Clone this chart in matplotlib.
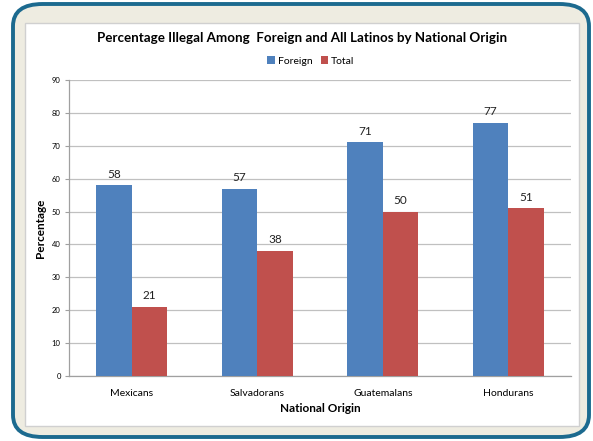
import numpy as np
import matplotlib.pyplot as plt
from matplotlib.patches import FancyBboxPatch, Rectangle

plt.rcParams['font.family'] = ['Lato', 'DejaVu Sans']

origins = ['Mexicans', 'Salvadorans', 'Guatemalans', 'Hondurans']
foreign = [58, 57, 71, 77]
total = [21, 38, 50, 51]
yticks = list(range(0, 100, 10))

blue = '#4f81bd'
red = '#c0504d'

fig = plt.figure(figsize=(5.93, 4.41), dpi=100)
fig.patch.set_facecolor('white')

# rounded outer frame + white chart area
frame = FancyBboxPatch((13/593, 4/441), (589-13)/593, (437-4)/441,
                       boxstyle='round,pad=0,rounding_size=0.05',
                       transform=fig.transFigure, facecolor='#eeece1',
                       edgecolor='#1c6a8f', linewidth=2.8, zorder=0)
fig.patches.append(frame)
inner = Rectangle((25/593, 1-426/441), (579-25)/593, (426-23)/441,
                  transform=fig.transFigure, facecolor='white',
                  edgecolor='#d0d0d0', linewidth=1.0, zorder=1)
fig.patches.append(inner)

ax = fig.add_axes([69/593, 1-376/441, 502/593, 296/441])
ax.set_zorder(5)
ax.set_facecolor('none')

x = np.arange(len(origins))
w = 0.283
b1 = ax.bar(x - w/2, foreign, w, color=blue, label='Foreign', zorder=3)
b2 = ax.bar(x + w/2, total, w, color=red, label='Total', zorder=3)

for bars, vals in ((b1, foreign), (b2, total)):
    for r, v in zip(bars, vals):
        ax.annotate(str(v), (r.get_x() + r.get_width()/2, v),
                    xytext=(0, 4), textcoords='offset points',
                    ha='center', va='bottom', fontsize=8.5, color='#222222')

ax.set_xlim(-0.5, len(origins) - 0.5)
ax.set_ylim(0, 90)
ax.set_yticks(yticks)
ax.set_yticklabels([str(t) for t in yticks], fontsize=5.5)
ax.set_xticks(x)
ax.set_xticklabels(origins, fontsize=7.5)
ax.tick_params(axis='x', length=0, pad=9)
ax.tick_params(axis='y', length=3, color='#a0a0a0', pad=3)
ax.yaxis.grid(True, color='#c0c0c0', linewidth=0.9, zorder=0)
for s in ('top', 'right'):
    ax.spines[s].set_visible(False)
for s in ('left', 'bottom'):
    ax.spines[s].set_color('#a0a0a0')
    ax.spines[s].set_linewidth(0.9)

ax.set_xlabel('National Origin', fontsize=8.5, fontweight='bold', labelpad=4)
ax.set_ylabel('Percentage', fontsize=8.5, fontweight='bold', labelpad=4)

fig.text(302/593, 1-38/441,
         'Percentage Illegal Among  Foreign and All Latinos by National Origin',
         ha='center', va='center', fontsize=9.6, fontweight='bold')
fig.legend(handles=[b1, b2], loc='center', bbox_to_anchor=(311/593, 1-61/441),
           ncol=2, frameon=False, fontsize=7.5, handlelength=0.7,
           handleheight=0.7, handletextpad=0.3, columnspacing=0.8)

fig.savefig('out.png', dpi=100)
